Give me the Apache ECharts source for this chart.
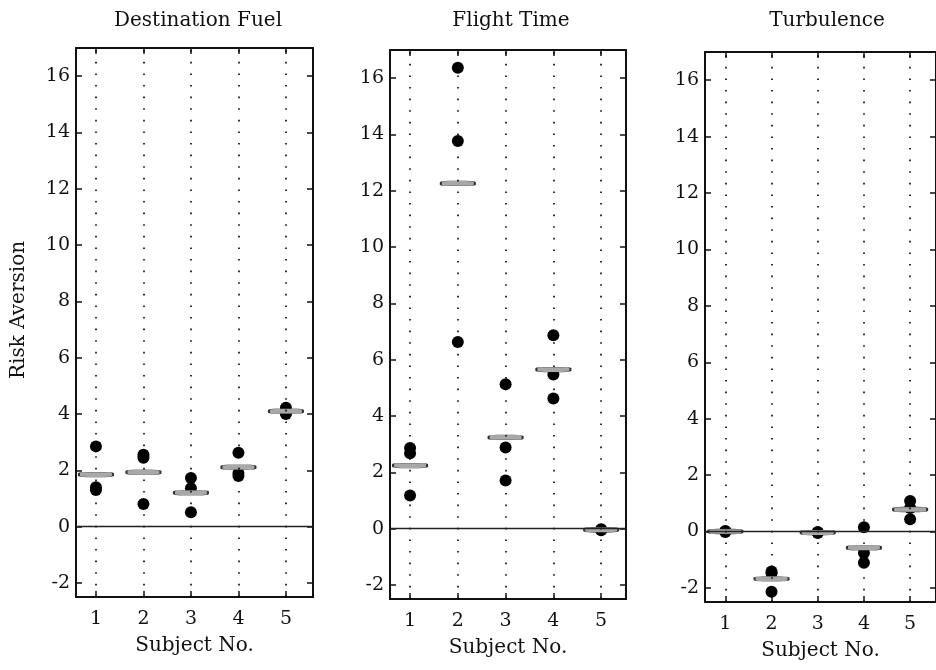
<!DOCTYPE html>
<html>
<head>
<meta charset="utf-8">
<style>
html,body{margin:0;padding:0;background:#fff;}
#chart{width:936px;height:670px;}
</style>
<script src="https://cdn.jsdelivr.net/npm/echarts@6.0.0/dist/echarts.min.js"></script>
</head>
<body>
<div id="chart"></div>
<script>
// ---- data ----
const subjects = [1, 2, 3, 4, 5];
const yTickValues = [-2, 0, 2, 4, 6, 8, 10, 12, 14, 16];
const panelTitles = ['Destination Fuel', 'Flight Time', 'Turbulence'];
const yAxisTitle = 'Risk Aversion';
const xAxisTitle = 'Subject No.';

// three trials per subject
const fuelTrials = [[2.85, 1.40, 1.30], [2.55, 2.45, 0.80], [1.73, 1.36, 0.51], [2.62, 1.90, 1.80], [4.22, 4.05, 4.00]];
const fuelMeans = [1.85, 1.93, 1.20, 2.11, 4.10];

const flightTrials = [[2.86, 2.68, 1.18], [16.37, 13.77, 6.63], [5.13, 2.88, 1.71], [6.87, 5.47, 4.62], [-0.06, -0.04, -0.02]];
const flightMeans = [2.24, 12.26, 3.24, 5.65, -0.04];

const turbTrials = [[0.02, 0.00, -0.02], [-1.42, -1.48, -2.14], [-0.02, -0.04, -0.05], [0.15, -0.76, -1.11], [1.08, 0.83, 0.43]];
const turbMeans = [0.00, -1.68, -0.04, -0.58, 0.78];

// ---- layout (not data) ----
const layouts = [
  { grid: { left: 76, top: 48, width: 237, height: 549 }, xr: [0.58, 5.57], tdx: 3.5 },
  { grid: { left: 390, top: 50, width: 236, height: 549 }, xr: [0.58, 5.52], tdx: 3 },
  { grid: { left: 705, top: 52, width: 239, height: 550 }, xr: [0.56, 5.56], tdx: 2.5 }
];
const yRange = [-2.5, 17];
const trialSets = [fuelTrials, flightTrials, turbTrials];
const meanSets = [fuelMeans, flightMeans, turbMeans];

const FONT = 'DejaVu Serif';
const INK = '#111';

const grids = [], xAxes = [], yAxes = [], series = [], graphics = [];

function frameAxisLine() {
  return { show: true, onZero: false, lineStyle: { color: INK, width: 2 } };
}
function innerTicks(vals) {
  return { show: true, inside: true, length: 6, lineStyle: { color: INK, width: 1.5 }, customValues: vals };
}

layouts.forEach((L, i) => {
  grids.push(Object.assign({ containLabel: false }, L.grid));
  xAxes.push({
    type: 'value', gridIndex: i, position: 'bottom', min: L.xr[0], max: L.xr[1],
    axisLine: frameAxisLine(), axisTick: innerTicks(subjects),
    axisLabel: { show: true, customValues: subjects, margin: 13, color: INK, fontFamily: FONT, fontSize: 19 },
    splitLine: { show: false },
    name: xAxisTitle, nameLocation: 'middle', nameGap: 39,
    nameTextStyle: { color: INK, fontFamily: FONT, fontSize: 20 }
  });
  xAxes.push({
    type: 'value', gridIndex: i, position: 'top', min: L.xr[0], max: L.xr[1],
    axisLine: frameAxisLine(), axisTick: innerTicks(subjects),
    axisLabel: { show: false }, splitLine: { show: false }
  });
  yAxes.push({
    type: 'value', gridIndex: i, position: 'left', min: yRange[0], max: yRange[1],
    axisLine: frameAxisLine(), axisTick: innerTicks(yTickValues),
    axisLabel: { show: true, customValues: yTickValues, margin: 6, color: INK, fontFamily: FONT, fontSize: 19 },
    splitLine: { show: false }
  });
  yAxes.push({
    type: 'value', gridIndex: i, position: 'right', min: yRange[0], max: yRange[1],
    axisLine: frameAxisLine(), axisTick: innerTicks(yTickValues),
    axisLabel: { show: false }, splitLine: { show: false }
  });

  const pts = [];
  trialSets[i].forEach((trials, k) => trials.forEach(v => pts.push([subjects[k], v])));

  series.push({
    type: 'scatter', xAxisIndex: 2 * i, yAxisIndex: 2 * i, z: 3,
    symbol: 'circle', symbolSize: 12, itemStyle: { color: '#000', opacity: 1 },
    data: pts, silent: true,
    markLine: {
      silent: true, symbol: 'none', label: { show: false }, animation: false,
      data: subjects.map(s => ({ xAxis: s, lineStyle: { type: [1.6, 10], color: '#000', width: 1.6 } }))
        .concat([{ yAxis: 0, lineStyle: { type: 'solid', color: '#222', width: 1.3 } }])
    }
  });
  series.push({
    type: 'scatter', xAxisIndex: 2 * i, yAxisIndex: 2 * i, z: 4,
    symbol: 'roundRect', symbolSize: [34, 5],
    itemStyle: { color: '#a8a8a8', borderColor: '#333', borderWidth: 0.8, opacity: 1 },
    data: meanSets[i].map((m, k) => [subjects[k], m]), silent: true
  });

  graphics.push({
    type: 'text',
    x: L.grid.left + L.grid.width / 2 + L.tdx, y: 21,
    style: { text: panelTitles[i], fill: INK, font: '20px "' + FONT + '"', textAlign: 'center', textVerticalAlign: 'middle' }
  });
});

graphics.push({
  type: 'text', x: 19, y: 310, rotation: Math.PI / 2,
  style: { text: yAxisTitle, fill: INK, font: '20px "' + FONT + '"', textAlign: 'center', textVerticalAlign: 'middle' }
});

const chart = echarts.init(document.getElementById('chart'), null, { renderer: 'canvas' });
chart.setOption({
  animation: false,
  backgroundColor: '#fff',
  grid: grids, xAxis: xAxes, yAxis: yAxes, series: series,
  graphic: graphics
});
</script>
</body>
</html>
